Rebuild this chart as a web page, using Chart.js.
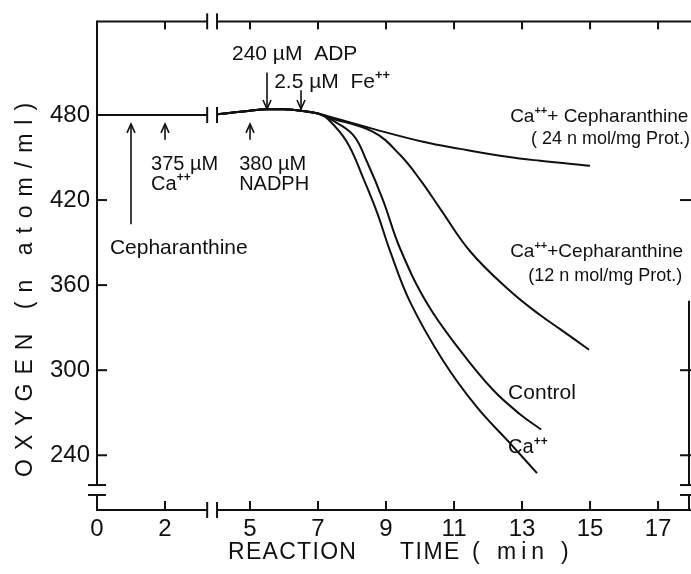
<!DOCTYPE html>
<html>
<head>
<meta charset="utf-8">
<script src="https://cdn.jsdelivr.net/npm/chart.js@4"></script>
<style>
  html, body { margin: 0; padding: 0; background: #fff; }
  #wrap { width: 691px; height: 574px; }
</style>
</head>
<body>
<div id="wrap"><canvas id="o2Chart" width="691" height="574"></canvas></div>
<script>
// Oxygen consumption — time axis is broken between ~3.3 and 4 min
const xTickMin = [0, 2, 5, 7, 9, 11, 13, 15, 17];
const yTickO2 = [240, 300, 360, 420, 480];
const rightTickO2 = [240, 300, 420];

// flat trace before the break
const preTime = [0, 1, 2, 3.24];
const preO2 = [480, 480, 480, 480];

// common lag after NADPH / ADP / Fe++
const lagTime = [4.03, 5, 5.5, 6, 6.5, 7];
const lagO2 = [480.5, 483, 484, 484, 483, 481];

const ctlTime = [7.35, 8.03, 8.44, 8.91, 9.41, 10.21, 11.18, 12.15, 12.94, 13.56];
const ctlO2 = [477.2, 466, 447, 420, 386, 347, 314, 286, 269, 258.2];

const caTime = [7.29, 7.85, 8.32, 8.74, 9.12, 9.71, 10.68, 11.68, 12.65, 13.44];
const caO2 = [477.2, 461, 436, 411, 384, 348, 306.7, 273.7, 248.4, 227.4];

const ceph12Time = [7.26, 8.62, 9.41, 10.0, 10.59, 11.47, 12.65, 13.53, 14.12, 14.97];
const ceph12O2 = [478.6, 468.1, 451.9, 434.4, 414.0, 383.9, 355.8, 338.9, 329.0, 314.4];

const ceph24Time = [7.26, 8.62, 10.09, 11.18, 12.56, 13.53, 15.0];
const ceph24O2 = [479.3, 470.2, 461.1, 456.1, 450.5, 447.7, 444.2];

// additions: time, arrow tail and head (n atom/ml)
const addTime = [1, 2, 5, 5.5, 6.5];
const addFrom = [403, 462.5, 462.5, 510, 497.5];
const addTo = [473.7, 473.7, 473.7, 484.2, 484.2];

const INK = '#111';
const FONT = "'Liberation Sans', Arial, sans-serif";

// the break removes half a minute from the drawn axis
const brk = t => (t >= 3.75 ? t - 0.5 : t);
const pts = (ts, vs) => ts.map((t, i) => ({ x: brk(t), y: vs[i] }));

const notes = [
  { t: 4.47, o2: 518.6, size: 21, text: '240 \u00b5M  ADP' },
  { t: 5.71, o2: 498.9, size: 21, text: '2.5 \u00b5M  Fe^{++}' },
  { t: 1.59, o2: 441.4, size: 20, text: '375 \u00b5M' },
  { t: 1.59, o2: 427.4, size: 20, text: 'Ca^{++}' },
  { t: 4.68, o2: 441.4, size: 20, text: '380 \u00b5M' },
  { t: 4.68, o2: 427.4, size: 20, text: 'NADPH' },
  { t: 0.38, o2: 381.8, size: 21, text: 'Cepharanthine' },
  { t: 12.65, o2: 475.1, size: 19, text: 'Ca^{++}+ Cepharanthine' },
  { t: 13.26, o2: 459.6, size: 18, text: '( 24 n mol/mg Prot.)' },
  { t: 12.65, o2: 379.6, size: 19, text: 'Ca^{++}+Cepharanthine' },
  { t: 13.18, o2: 362.8, size: 18, text: '(12 n mol/mg Prot.)' },
  { t: 12.59, o2: 280, size: 21, text: 'Control' },
  { t: 12.59, o2: 241.4, size: 20, text: 'Ca^{++}' },
];

function drawRich(ctx, str, x, y, size) {
  str.split(/(\^\{[^}]*\})/).forEach(s => {
    if (!s) return;
    if (s.startsWith('^{')) {
      const sup = s.slice(2, -1);
      ctx.font = `bold ${Math.round(size * 0.6)}px ${FONT}`;
      ctx.fillText(sup, x, y - size * 0.42);
      x += ctx.measureText(sup).width;
    } else {
      ctx.font = `${size}px ${FONT}`;
      ctx.fillText(s, x, y);
      x += ctx.measureText(s).width;
    }
  });
}

function drawSpaced(ctx, str, x, y, gap) {
  for (const ch of str) {
    ctx.fillText(ch, x, y);
    x += ctx.measureText(ch).width + gap;
  }
}

function line(ctx, x1, y1, x2, y2) {
  ctx.beginPath();
  ctx.moveTo(x1, y1);
  ctx.lineTo(x2, y2);
  ctx.stroke();
}

const frame = {
  id: 'frame',
  afterDraw(chart) {
    const { ctx, chartArea: a, scales: { x, y } } = chart;
    const W = chart.width;
    const xb0 = x.getPixelForValue(brk(3.24));
    const xb1 = x.getPixelForValue(brk(4.03));
    const yb0 = y.getPixelForValue(219);
    const yb1 = y.getPixelForValue(212);

    ctx.save();
    ctx.strokeStyle = INK;
    ctx.fillStyle = INK;
    ctx.lineWidth = 2;
    ctx.lineCap = 'butt';

    // left axis with break
    line(ctx, a.left, a.top - 1, a.left, yb0);
    line(ctx, a.left, yb1, a.left, a.bottom + 1);
    line(ctx, a.left - 9, yb0, a.left + 9, yb0);
    line(ctx, a.left - 9, yb1, a.left + 9, yb1);
    yTickO2.forEach(v => {
      const py = y.getPixelForValue(v);
      line(ctx, a.left, py, a.left + 10, py);
    });

    // right axis (partly visible)
    line(ctx, a.right, y.getPixelForValue(349), a.right, yb0);
    line(ctx, a.right, yb1, a.right, a.bottom);
    line(ctx, a.right - 9, yb0, W, yb0);
    line(ctx, a.right - 9, yb1, W, yb1);
    rightTickO2.forEach(v => {
      const py = y.getPixelForValue(v);
      line(ctx, a.right - 9, py, W, py);
    });

    // top and bottom axes with break
    [a.top, a.bottom].forEach((py, k) => {
      line(ctx, a.left, py, xb0, py);
      line(ctx, xb1, py, W, py);
      line(ctx, xb0, py - 8, xb0, py + 8);
      line(ctx, xb1, py - 8, xb1, py + 8);
      xTickMin.forEach(t => {
        if (t === 0) return;
        const px = x.getPixelForValue(brk(t));
        line(ctx, px, py, px, k === 0 ? py + 8 : py - 9);
      });
    });

    // break marks on the trace
    const y480 = y.getPixelForValue(480);
    line(ctx, xb0, y480 - 8, xb0, y480 + 8);
    line(ctx, xb1, y480 - 8, xb1, y480 + 8);

    // addition arrows
    ctx.lineWidth = 1.6;
    addTime.forEach((t, i) => {
      const px = x.getPixelForValue(brk(t));
      const p0 = y.getPixelForValue(addFrom[i]);
      const p1 = y.getPixelForValue(addTo[i]);
      const dir = p1 < p0 ? 1 : -1;
      line(ctx, px, p0, px, p1);
      ctx.beginPath();
      ctx.moveTo(px - 4, p1 + dir * 9);
      ctx.lineTo(px, p1);
      ctx.lineTo(px + 4, p1 + dir * 9);
      ctx.stroke();
    });

    // annotations
    ctx.textBaseline = 'alphabetic';
    ctx.textAlign = 'left';
    notes.forEach(n => {
      drawRich(ctx, n.text, x.getPixelForValue(brk(n.t)), y.getPixelForValue(n.o2), n.size);
    });

    // axis titles
    ctx.font = `23px ${FONT}`;
    drawSpaced(ctx, 'REACTION', 228, 559, 1.3);
    drawSpaced(ctx, 'TIME', 400, 559, 1.5);
    drawSpaced(ctx, '(', 472, 559, 0);
    drawSpaced(ctx, 'min', 497, 559, 5);
    drawSpaced(ctx, ')', 561, 559, 0);

    ctx.translate(32, 477);
    ctx.rotate(-Math.PI / 2);
    drawSpaced(ctx, 'OXYGEN (n atom/ml)', 0, 0, 9);
    ctx.restore();
  },
};

const trace = (data) => ({
  data,
  borderColor: INK,
  borderWidth: 2,
  pointRadius: 0,
  fill: false,
  tension: 0.4,
});

new Chart(document.getElementById('o2Chart'), {
  type: 'line',
  data: {
    datasets: [
      trace(pts(preTime, preO2)),
      trace(pts(lagTime.concat(ctlTime), lagO2.concat(ctlO2))),
      trace(pts(lagTime.concat(caTime), lagO2.concat(caO2))),
      trace(pts(lagTime.concat(ceph12Time), lagO2.concat(ceph12O2))),
      trace(pts(lagTime.concat(ceph24Time), lagO2.concat(ceph24O2))),
    ],
  },
  options: {
    responsive: false,
    animation: false,
    layout: { padding: { top: 19, right: 2, left: 0, bottom: 0 } },
    plugins: { legend: { display: false }, tooltip: { enabled: false } },
    scales: {
      x: {
        type: 'linear',
        min: 0,
        max: 17.41,
        afterBuildTicks: s => { s.ticks = xTickMin.map(t => ({ value: brk(t) })); },
        afterFit: s => { s.height = 64; },
        grid: { display: false, drawTicks: false },
        border: { display: false },
        ticks: {
          color: INK,
          font: { family: FONT, size: 24 },
          padding: 5,
          maxRotation: 0,
          autoSkip: false,
          callback: (v, i) => String(xTickMin[i]),
        },
      },
      y: {
        type: 'linear',
        min: 201.4,
        max: 546,
        afterBuildTicks: s => { s.ticks = yTickO2.map(v => ({ value: v })); },
        afterFit: s => { s.width = 97; },
        grid: { display: false, drawTicks: false },
        border: { display: false },
        ticks: {
          color: INK,
          font: { family: FONT, size: 24 },
          padding: 7,
          callback: v => String(v),
        },
      },
    },
  },
  plugins: [frame],
});
</script>
</body>
</html>
